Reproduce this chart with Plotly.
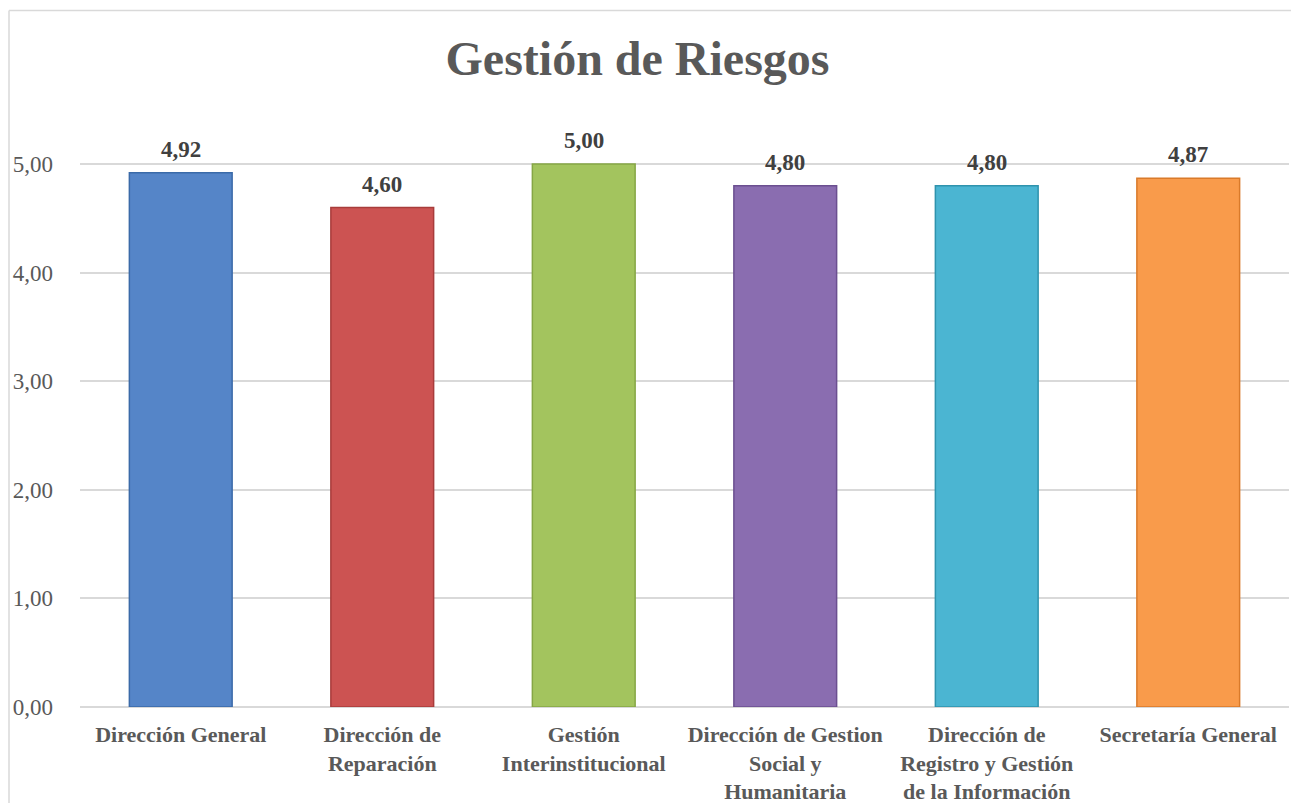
import plotly.graph_objects as go

categories = [
    "Dirección General",
    "Dirección de<br>Reparación",
    "Gestión<br>Interinstitucional",
    "Dirección de Gestion<br>Social y<br>Humanitaria",
    "Dirección de<br>Registro y Gestión<br>de la Información",
    "Secretaría General",
]
values = [4.92, 4.60, 5.00, 4.80, 4.80, 4.87]
bar_colors = ["#5585c8", "#cc5352", "#a3c45e", "#8a6db0", "#4bb5d2", "#f99b4b"]
edge_colors = ["#3a6aa8", "#a83c3b", "#86a645", "#6b4f90", "#2f93ad", "#d97a2a"]

serif = "Liberation Serif"

fig = go.Figure()
fig.add_trace(go.Bar(
    x=categories,
    y=values,
    marker=dict(color=bar_colors, line=dict(color=edge_colors, width=1.5)),
    showlegend=False,
    hoverinfo="x+y",
))

# value labels above each bar
for cat, val in zip(categories, values):
    fig.add_annotation(
        x=cat, y=val, text="<b>%s</b>" % ("%.2f" % val).replace(".", ","),
        showarrow=False, yanchor="bottom", yshift=9,
        font=dict(family=serif, size=23, color="#404040"),
    )

# chart border: only the left and top edges fall inside the picture
border = dict(color="#d9d9d9", width=1.5)
fig.add_shape(type="line", xref="paper", yref="paper",
              xsizemode="pixel", ysizemode="pixel", xanchor=0, yanchor=1,
              x0=-71, x1=-71, y0=89.5, y1=-800, line=border)
fig.add_shape(type="line", xref="paper", yref="paper",
              xsizemode="pixel", ysizemode="pixel", xanchor=0, yanchor=1,
              x0=-71, x1=1400, y0=89.5, y1=89.5, line=border)

fig.update_layout(
    width=1291,
    height=803,
    separators=",.",
    plot_bgcolor="white",
    paper_bgcolor="white",
    bargap=0.49,
    margin=dict(l=80, r=2, t=100, b=96),
    title=dict(
        text="<b>Gestión de Riesgos</b>",
        x=0.4938, xanchor="center", y=1 - 58 / 803, yanchor="middle",
        font=dict(family=serif, size=48, color="#595959"),
    ),
    xaxis=dict(
        tickfont=dict(family=serif, size=22, color="#595959", weight="bold"),
        showline=False, ticks="", showgrid=False,
        ticklabelstandoff=12, automargin=False,
    ),
    yaxis=dict(
        range=[0, 5.59],
        dtick=1,
        tickformat=".2f",
        tickfont=dict(family=serif, size=23, color="#595959"),
        showgrid=True, gridcolor="#d9d9d9", gridwidth=1.5,
        zeroline=True, zerolinecolor="#d9d9d9", zerolinewidth=1.5,
        showline=False, ticks="",
        ticklabelstandoff=26, automargin=False,
    ),
)

fig.write_html(
    "out.html",
    config={"displayModeBar": False},
    post_script="document.body.style.margin='0';document.body.style.overflow='hidden';",
)
